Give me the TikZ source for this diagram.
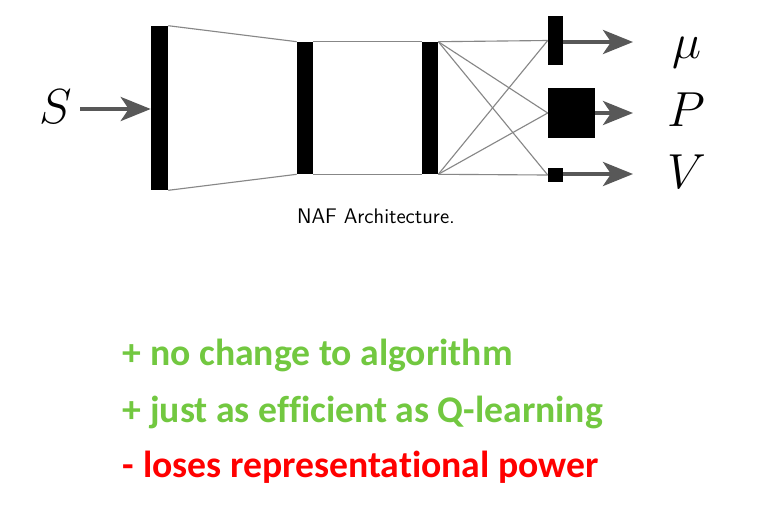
\RequirePackage{fix-cm}
\documentclass[tikz,border=0pt]{standalone}
\usepackage{fontspec}
\newfontfamily\slidefont[Ligatures=NoCommon]{Carlito}
\usetikzlibrary{arrows.meta, positioning}

\definecolor{plusgreen}{RGB}{114,200,64}
\definecolor{minusred}{RGB}{255,0,0}
\definecolor{arrowgray}{RGB}{88,88,88}
\definecolor{wiregray}{RGB}{135,135,135}

\begin{document}
\begin{tikzpicture}[
    x=0.025cm, y=-0.025cm,
    layer/.style={
        draw=none,
        fill=black,
        inner sep=0pt,
        minimum width=0.4cm
    },
    wire/.style={draw=wiregray, line width=0.8pt},
    flow/.style={
        draw=arrowgray,
        line width=2.8pt,
        -{Stealth[length=0.75cm, width=0.6cm, inset=0.2cm]}
    },
    sym/.style={inner sep=0pt, font=\fontsize{35}{40}\selectfont},
    point/.style={font=\fontsize{26.8}{30}\selectfont\slidefont\bfseries, anchor=west}
]
\useasboundingbox[fill=white] (0,0) rectangle (760,514);

% ------------------------
% Network layers
% ------------------------
\node[layer, minimum width=0.425cm, minimum height=4.1cm] (l1) at (159.5,108) {};
\node[layer, minimum height=3.3cm] (l2) at (305,108) {};
\node[layer, minimum height=3.3cm] (l3) at (430,108) {};

% ------------------------
% Output heads
% ------------------------
\node[layer, minimum width=0.375cm, minimum height=1.225cm] (mu) at (555.5,40.5) {};
\node[layer, minimum width=1.175cm, minimum height=1.25cm] (pm) at (571.5,113) {};
\node[layer, minimum width=0.375cm, minimum height=0.35cm] (v) at (555.5,175) {};

% ------------------------
% Connections
% ------------------------
\draw[wire] (l1.north east) -- (l2.north west);
\draw[wire] (l1.south east) -- (l2.south west);
\draw[wire] (l2.north east) -- (l3.north west);
\draw[wire] (l2.south east) -- (l3.south west);

\draw[wire] (l3.north east) -- (mu.west);
\draw[wire] (l3.north east) -- (pm.west);
\draw[wire] (l3.north east) -- (v.west);
\draw[wire] (l3.south east) -- (mu.west);
\draw[wire] (l3.south east) -- (pm.west);
\draw[wire] (l3.south east) -- (v.west);

% ------------------------
% Input and outputs
% ------------------------
\node[sym] (s) at (56,107) {$S$};
\coordinate (sin) at (80,109);
\draw[flow] (sin) -- (l1.west |- sin);

\coordinate (muend) at (633,42);
\coordinate (pend) at (633,113);
\coordinate (vend) at (633,174);

\draw[flow] (mu.east |- muend) -- (muend);
\draw[flow] (pm.east) -- (pend);
\draw[flow] (v.east |- vend) -- (vend);

\node[sym] (lmu) at (687,53) {$\mu$};
\node[sym] (lp) at (686,110) {$P$};
\node[sym] (lv) at (687,172) {$V$};

% caption
\node[font=\fontsize{15}{18}\selectfont\sffamily] (cap) at (376,216) {NAF Architecture.};

% ------------------------
% Pros and cons
% ------------------------
\node[point, text=plusgreen] (pro1) at (118,355) {+ no change to algorithm};
\node[point, text=plusgreen] (pro2) at (118,412) {+ just as efficient as Q-learning};
\node[point, text=minusred] (con1) at (118,467) {- loses representational power};

\end{tikzpicture}
\end{document}
